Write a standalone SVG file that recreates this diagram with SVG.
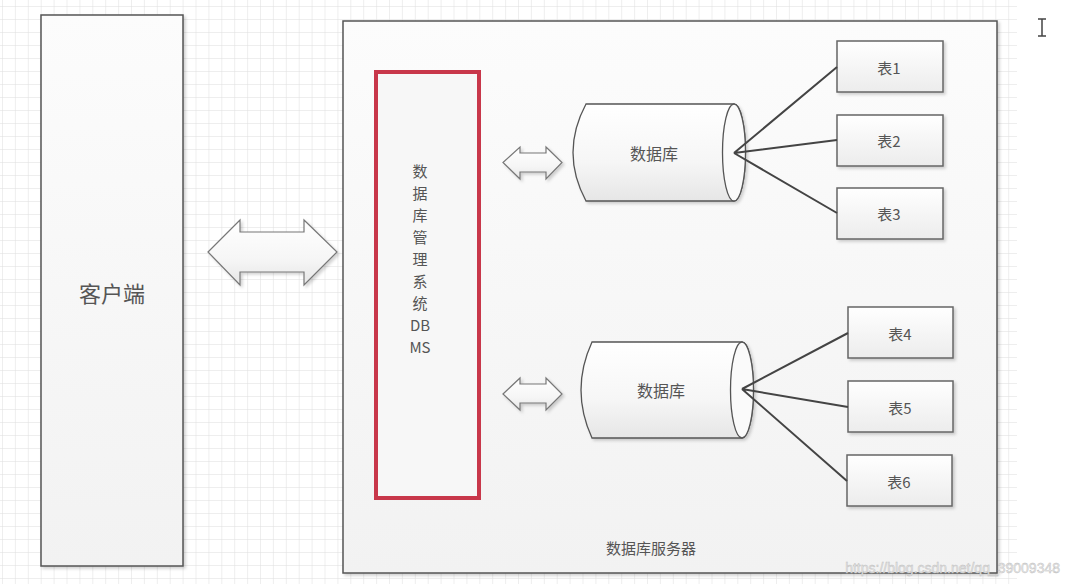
<svg xmlns="http://www.w3.org/2000/svg" width="1069" height="588" viewBox="0 0 1069 588">
<defs>
<pattern id="grid" x="3" y="7" width="12.9" height="13" patternUnits="userSpaceOnUse">
<path d="M12.9 0 V13 M0 13 H12.9" fill="none" stroke="#dedede" stroke-width="1"/>
</pattern>
<linearGradient id="gv" x1="0" y1="0" x2="0" y2="1">
<stop offset="0" stop-color="#ffffff"/>
<stop offset="1" stop-color="#ececec"/>
</linearGradient>
<linearGradient id="gs" x1="0" y1="0" x2="0" y2="1">
<stop offset="0" stop-color="#fcfcfc"/>
<stop offset="1" stop-color="#f2f2f2"/>
</linearGradient>
<linearGradient id="gc" x1="0" y1="0" x2="0" y2="1">
<stop offset="0" stop-color="#ffffff"/>
<stop offset="0.6" stop-color="#f6f6f6"/>
<stop offset="1" stop-color="#e6e6e6"/>
</linearGradient>
<filter id="sh" x="-10%" y="-10%" width="130%" height="130%">
<feDropShadow dx="2" dy="2" stdDeviation="1.5" flood-color="#000" flood-opacity="0.18"/>
</filter>
</defs>
<style>
.t{font-family:"Noto Sans CJK SC","Liberation Sans",sans-serif;fill:#555;text-anchor:middle;dominant-baseline:central}
.v{font-size:15px}
.box{fill:url(#gv);stroke:#666;stroke-width:1.5}
.arrow{fill:url(#gc);stroke:#777;stroke-width:1.2}
.con{stroke:#444;stroke-width:2;fill:none}
</style>
<rect width="1069" height="588" fill="#ffffff"/>
<rect x="0" y="0" width="1017" height="584" fill="url(#grid)"/>

<g id="client">
<rect x="41" y="15" width="142" height="551" fill="url(#gs)" stroke="#555" stroke-width="1.5" filter="url(#sh)"/>
<text class="t" x="112" y="292" font-size="22">客户端</text>
</g>

<g id="server">
<rect x="343" y="21" width="654" height="552" fill="url(#gs)" stroke="#555" stroke-width="1.5" filter="url(#sh)"/>
<text class="t" x="651" y="547" font-size="15">数据库服务器</text>
</g>

<g id="dbms">
<rect x="376" y="72" width="103" height="426" fill="#f7f7f7" stroke="#c8374a" stroke-width="4"/>
<text class="t v" x="420" y="170">数</text>
<text class="t v" x="420" y="192">据</text>
<text class="t v" x="420" y="214">库</text>
<text class="t v" x="420" y="236">管</text>
<text class="t v" x="420" y="258">理</text>
<text class="t v" x="420" y="280">系</text>
<text class="t v" x="420" y="302">统</text>
<text class="t v" x="420" y="324" font-family="Liberation Sans, sans-serif">DB</text>
<text class="t v" x="420" y="346" font-family="Liberation Sans, sans-serif">MS</text>
</g>

<g id="db1">
<path d="M586 104 H734 A11.5 48.5 0 0 1 734 201 H586 Q560 152.5 586 104 Z" fill="url(#gc)" stroke="#555" stroke-width="1.3" filter="url(#sh)"/>
<ellipse cx="734" cy="152.5" rx="11.5" ry="48.5" fill="#fafafa" stroke="#555" stroke-width="1.3"/>
<text class="t" x="654" y="153" font-size="16">数据库</text>
</g>

<g id="db2">
<path d="M592 342 H742 A11.5 48 0 0 1 742 438 H592 Q570 390 592 342 Z" fill="url(#gc)" stroke="#555" stroke-width="1.3" filter="url(#sh)"/>
<ellipse cx="742" cy="390" rx="11.5" ry="48" fill="#fafafa" stroke="#555" stroke-width="1.3"/>
<text class="t" x="661" y="390" font-size="16">数据库</text>
</g>

<g id="t1"><rect class="box" x="837" y="41" width="106" height="51" filter="url(#sh)"/><text class="t" x="889" y="67" font-size="15">表1</text></g>
<g id="t2"><rect class="box" x="837" y="115" width="106" height="51" filter="url(#sh)"/><text class="t" x="889" y="140" font-size="15">表2</text></g>
<g id="t3"><rect class="box" x="837" y="188" width="106" height="51" filter="url(#sh)"/><text class="t" x="889" y="213" font-size="15">表3</text></g>
<g id="t4"><rect class="box" x="848" y="307" width="105" height="51" filter="url(#sh)"/><text class="t" x="900" y="333" font-size="15">表4</text></g>
<g id="t5"><rect class="box" x="848" y="381" width="105" height="51" filter="url(#sh)"/><text class="t" x="900" y="407" font-size="15">表5</text></g>
<g id="t6"><rect class="box" x="847" y="455" width="105" height="51" filter="url(#sh)"/><text class="t" x="899" y="481" font-size="15">表6</text></g>

<g id="connectors">
<path class="arrow" d="M208 252 L240 220 V232 H304 V220 L337 252 L304 285 V272 H240 V285 Z" filter="url(#sh)"/>
<path class="arrow" d="M503 162.5 L520 147 V153 H546 V147 L562 162.5 L546 179 V172 H520 V179 Z" filter="url(#sh)"/>
<path class="arrow" d="M503 394 L520 378 V384 H546 V378 L562 394 L546 410 V403 H520 V410 Z" filter="url(#sh)"/>
<path class="con" d="M734 153 L837 67 M734 153 L837 140 M734 153 L837 213"/>
<path class="con" d="M742 389 L848 333 M742 389 L848 407 M742 389 L847 481"/>
</g>

<path d="M1038 19 H1046 M1042 19 V36 M1038 36 H1046" stroke="#444" stroke-width="1.5" fill="none"/>
<text x="1060" y="568" font-family="Liberation Sans, sans-serif" font-size="14" fill="#e8e8e8" stroke="#bbb" stroke-width="0.4" text-anchor="end" dominant-baseline="central">https://blog.csdn.net/qq_39009348</text>
</svg>
